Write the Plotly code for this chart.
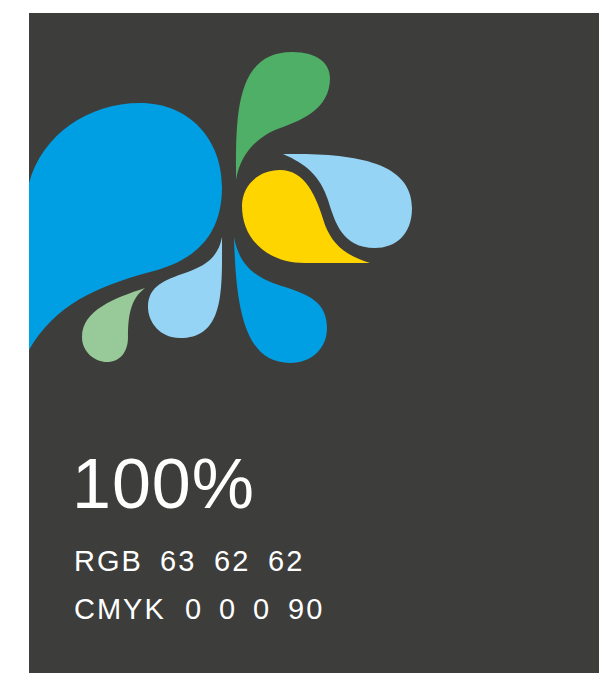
import plotly.graph_objects as go

# Swatch values
swatch_percent = [100]
rgb_labels = ["RGB"]
rgb_values = [63, 62, 62]
cmyk_labels = ["CMYK"]
cmyk_values = [0, 0, 0, 90]

W, H = 599, 673
bg = "rgb(61,61,59)"

fig = go.Figure()
fig.add_trace(go.Scatter(x=[0, W], y=[0, H], mode="markers", marker=dict(opacity=0), hoverinfo="skip", showlegend=False))

shapes = []
shapes.append(dict(type="rect", x0=29, x1=W + 1, y0=13, y1=H + 1, fillcolor=bg, line=dict(width=0), layer="below"))

logo = [
    # big blue drop
    ("#009FE3", "M 29,183 C 42,135 88,103 140,103 C 190,103 222,140 222,187 C 222,240 190,262 150,272 C 95,287 55,305 29,350 Z"),
    # green top drop
    ("#4FAF67", "M 236,180 C 236,120 234,52 292,52 C 318,52 330,64 330,78 C 330,110 300,121 275,130 C 255,139 240,155 236,180 Z"),
    # yellow drop
    ("#FFD500", "M 370,263 C 345,255 333,245 325,225 C 316,195 305,170 280,170 C 258,170 242,186 242,206 C 242,240 268,263 305,263 Z"),
    # light blue right drop
    ("#95D4F5", "M 283,154 C 350,153 412,160 412,208 C 412,235 395,248 375,248 C 342,248 335,222 328,200 C 320,176 306,164 283,154 Z"),
    # small light blue drop
    ("#95D4F5", "M 222,237 C 222,290 225,338 180,338 C 160,338 148,322 148,307 C 148,286 165,280 185,273 C 205,266 218,258 222,237 Z"),
    # small light green drop
    ("#97CA98", "M 145,288 C 115,298 82,310 82,337 C 82,352 95,362 107,362 C 120,362 128,352 128,337 C 128,312 132,298 145,288 Z"),
    # blue lower drop
    ("#009FE3", "M 234,237 C 236,310 245,363 290,363 C 312,363 327,348 327,328 C 327,300 305,294 285,287 C 260,279 240,270 234,237 Z"),
]
for color, path in logo:
    shapes.append(dict(type="path", path=path, xref="x", yref="y", fillcolor=color, line=dict(width=0), layer="above"))

annotations = []
font_main = "Liberation Sans, Arial, sans-serif"

def add_text(txt, x, y, size, spacing):
    annotations.append(dict(text=f'<span style="letter-spacing:{spacing}px">{txt}</span>',
                            x=x, y=y, xref="x", yref="y", xanchor="left", yanchor="middle",
                            showarrow=False, font=dict(family=font_main, size=size, color="white", weight=300),
                            borderpad=0))

add_text(f"{swatch_percent[0]}%", 71, 484, 70, 1)

rgb_tokens = rgb_labels + [str(v) for v in rgb_values]
rgb_x = [73, 159, 213, 267]
for t, x in zip(rgb_tokens, rgb_x):
    add_text(t, x, 561, 29, 2)

cmyk_tokens = cmyk_labels + [str(v) for v in cmyk_values]
cmyk_x = [73, 184, 218, 252, 287]
for t, x in zip(cmyk_tokens, cmyk_x):
    add_text(t, x, 609, 29, 2)

fig.update_layout(
    width=W, height=H,
    margin=dict(l=0, r=0, t=0, b=0, pad=0),
    paper_bgcolor="white", plot_bgcolor="white",
    xaxis=dict(range=[0, W], visible=False, fixedrange=True),
    yaxis=dict(range=[H, 0], visible=False, fixedrange=True),
    shapes=shapes, annotations=annotations, showlegend=False,
)

fig.write_html("out.html", config={"displayModeBar": False},
               post_script="document.body.style.margin='0';document.body.style.overflow='hidden';")
